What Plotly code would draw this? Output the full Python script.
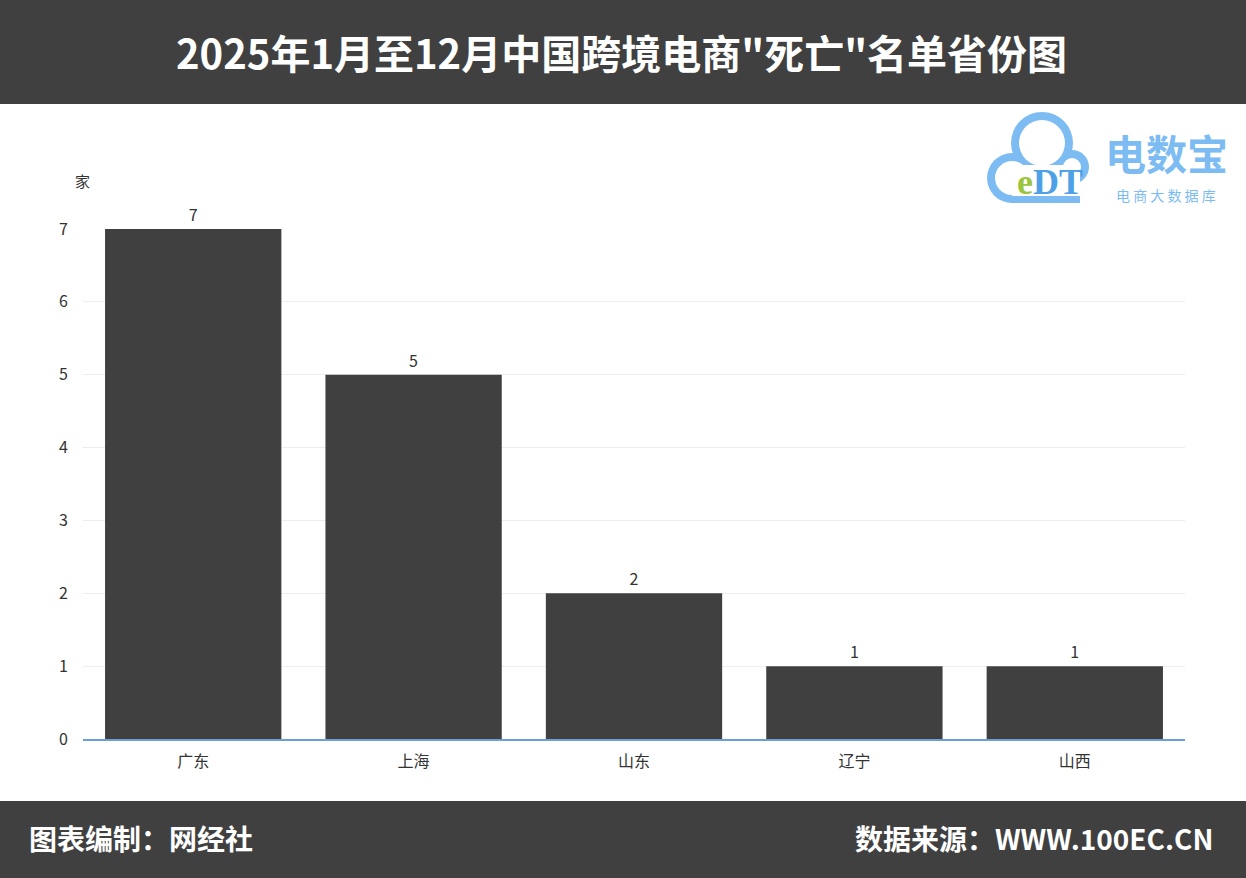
import plotly.graph_objects as go

# data
provinces = ["广东", "上海", "山东", "辽宁", "山西"]
counts = [7, 5, 2, 1, 1]
y_ticks = [0, 1, 2, 3, 4, 5, 6, 7]

title_text = '2025年1月至12月中国跨境电商"死亡"名单省份图'
left_note = "图表编制：网经社"
right_note = "数据来源：WWW.100EC.CN"
unit = "家"

DARK = "#404040"
BLUE = "#7cbcf2"
FONT = "Noto Sans CJK SC"

W, H = 1246, 878
ML, MR, MT, MB = 83, 61, 229, 139
PW, PH = W - ML - MR, H - MT - MB


def px(x):
    return (x - ML) / PW


def py(y):
    return (H - MB - y) / PH


fig = go.Figure(go.Bar(
    x=provinces, y=counts,
    marker=dict(color=DARK, line=dict(width=0)),
    text=[str(c) for c in counts], textposition="outside",
    textfont=dict(size=16, color="#333333", family=FONT),
    cliponaxis=False, width=0.8,
))

shapes = [
    # header / footer bands
    dict(type="rect", xref="paper", yref="paper", x0=px(0), x1=px(W),
         y0=py(104), y1=py(0), fillcolor=DARK, line_width=0, layer="below"),
    dict(type="rect", xref="paper", yref="paper", x0=px(0), x1=px(W),
         y0=py(H), y1=py(801), fillcolor=DARK, line_width=0, layer="below"),
]

# cloud logo: outer blue circles, inner white circles
outer = [(1012, 178, 25), (1042, 143, 31), (1072, 167, 17)]
for cx, cy, r in outer:
    shapes.append(dict(type="circle", xref="paper", yref="paper",
                       x0=px(cx - r), x1=px(cx + r), y0=py(cy + r), y1=py(cy - r),
                       fillcolor=BLUE, line_width=0))
shapes.append(dict(type="rect", xref="paper", yref="paper", x0=px(1012), x1=px(1080),
                   y0=py(203), y1=py(170), fillcolor=BLUE, line_width=0))
for cx, cy, r in outer:
    r2 = r - 8
    shapes.append(dict(type="circle", xref="paper", yref="paper",
                       x0=px(cx - r2), x1=px(cx + r2), y0=py(cy + r2), y1=py(cy - r2),
                       fillcolor="white", line_width=0))
shapes.append(dict(type="rect", xref="paper", yref="paper", x0=px(1012), x1=px(1080),
                   y0=py(196), y1=py(165), fillcolor="white", line_width=0))

annotations = [
    dict(text=f"<b>{title_text}</b>", x=px(W / 2 - 2), y=py(52), xref="paper", yref="paper",
         showarrow=False, xanchor="center", yanchor="middle",
         font=dict(size=40, color="white", family=FONT)),
    dict(text=f"<b>{left_note}</b>", x=px(27), y=py(838), xref="paper", yref="paper",
         showarrow=False, xanchor="left", yanchor="middle",
         font=dict(size=28, color="white", family=FONT)),
    dict(text=f"<b>{right_note}</b>", x=px(1215), y=py(838), xref="paper", yref="paper",
         showarrow=False, xanchor="right", yanchor="middle",
         font=dict(size=28, color="white", family=FONT)),
    dict(text=unit, x=px(82), y=py(181), xref="paper", yref="paper",
         showarrow=False, xanchor="center", yanchor="middle",
         font=dict(size=15, color="#333333", family=FONT)),
    dict(text="<b><span style='color:#9bc53d'>e</span>DT</b>", x=px(1050), y=py(182),
         xref="paper", yref="paper", showarrow=False, xanchor="center", yanchor="middle",
         font=dict(size=36, color="#4ea1e6", family="Liberation Serif")),
    dict(text="<b>电数宝</b>", x=px(1166), y=py(152), xref="paper", yref="paper",
         showarrow=False, xanchor="center", yanchor="middle",
         font=dict(size=41, color=BLUE, family=FONT)),
    dict(text="电 商 大 数 据 库", x=px(1166), y=py(195), xref="paper", yref="paper",
         showarrow=False, xanchor="center", yanchor="middle",
         font=dict(size=14, color=BLUE, family=FONT)),
]

fig.update_layout(
    width=W, height=H,
    margin=dict(l=ML, r=MR, t=MT, b=MB),
    paper_bgcolor="white", plot_bgcolor="white",
    font=dict(family=FONT, color="#333333", size=15),
    showlegend=False, bargap=0.2,
    shapes=shapes, annotations=annotations,
    xaxis=dict(showline=True, linecolor="#6a9fd8", linewidth=1.5, ticks="",
               ticklabelstandoff=7,
               tickfont=dict(size=16, color="#333333"), showgrid=False),
    yaxis=dict(range=[0, 7], tickvals=y_ticks, showgrid=True, gridcolor="#eeeeee",
               zeroline=False, showline=False, ticks="", ticklabelstandoff=14,
               tickfont=dict(size=16, color="#333333")),
)

fig.write_html("out.html", config={"displayModeBar": False},
               post_script="document.body.style.margin='0';")
